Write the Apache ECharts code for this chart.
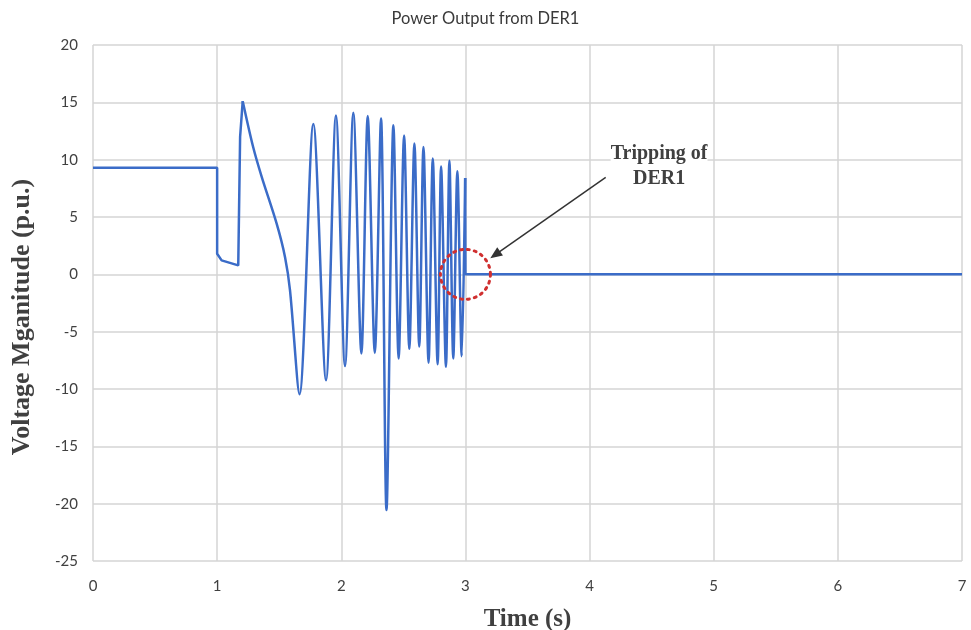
<!DOCTYPE html>
<html><head><meta charset="utf-8">
<script src="https://cdn.jsdelivr.net/npm/echarts@6/dist/echarts.min.js"></script>
<style>html,body{margin:0;padding:0;background:#fff}#c{width:971px;height:630px}</style>
</head><body><div id="c"></div>
<script>
// Pre-disturbance and fault step (time s / voltage p.u.)
const stepTime = [0, 1.0, 1.0, 1.036, 1.17, 1.185, 1.206];
const stepVolt = [9.3, 9.3, 1.8, 1.22, 0.78, 12.0, 15.1];
// Oscillation phase
const oscTime = [1.206, 1.29, 1.359, 1.48, 1.547, 1.587, 1.663,
  1.775, 1.877, 1.957, 2.03, 2.097, 2.162, 2.213, 2.27, 2.32, 2.364, 2.42, 2.462, 2.506, 2.548,
  2.589, 2.628, 2.662, 2.703, 2.737, 2.776, 2.804, 2.843, 2.871, 2.902, 2.935, 2.97, 2.998];
const oscVolt = [15.1, 11.1, 8.5, 4.4, 1.5, -1.4, -10.45,
  13.1, -9.23, 13.85, -8.0, 14.1, -6.9, 13.8, -6.85, 13.6, -20.56, 13.0, -7.35, 12.1, -6.5,
  11.4, -6.3, 11.1, -7.7, 10.1, -7.85, 9.4, -8.07, 9.9, -7.35, 9.0, -7.15, 8.4];
// After tripping
const tripTime = [2.998, 3.0, 7.0];
const tripVolt = [8.4, 0, 0];

const xTicks = [0, 1, 2, 3, 4, 5, 6, 7];
const yTicks = [-25, -20, -15, -10, -5, 0, 5, 10, 15, 20];
const titleText = 'Power Output from DER1';
const xName = 'Time (s)';
const yName = 'Voltage Mganitude (p.u.)';
const noteText = 'Tripping of\nDER1';
const tripPoint = [3.0, 0];
const arrowFrom = [4.13, 8.45];
const arrowTo = [3.2, 1.4];
const notePos = [4.56, 9.4];

const chart = echarts.init(document.getElementById('c'));
const serif = '"Liberation Serif","DejaVu Serif",serif';
const sans = 'Lato,"Open Sans",sans-serif';
const lineStyle = {color: '#3b6cc8', width: 2.5};
const pairs = (t, v) => t.map((x, i) => [x, v[i]]);
chart.setOption({
  animation: false,
  title: {text: titleText, left: 'center', top: 5,
    textStyle: {fontFamily: sans, fontSize: 16.5, fontWeight: 'normal', color: '#3a3a3a'}},
  grid: {left: 93, right: 9, top: 45, bottom: 69, outerBoundsMode: 'none', containLabel: false},
  xAxis: {type: 'value', min: xTicks[0], max: xTicks[xTicks.length - 1], interval: 1,
    name: xName, nameLocation: 'middle', nameGap: 46,
    nameTextStyle: {fontFamily: serif, fontSize: 25, fontWeight: 'bold', color: '#404040'},
    axisLine: {show: false}, axisTick: {show: false},
    axisLabel: {fontFamily: sans, fontSize: 15, color: '#404040', margin: 18},
    splitLine: {show: true, lineStyle: {color: '#d4d4d4', width: 1.5}}},
  yAxis: {type: 'value', min: yTicks[0], max: yTicks[yTicks.length - 1], interval: 5,
    name: yName, nameLocation: 'middle', nameGap: 58,
    nameTextStyle: {fontFamily: serif, fontSize: 26, fontWeight: 'bold', color: '#404040',
      padding: [0, 28, 0, 0]},
    axisLine: {show: false}, axisTick: {show: false},
    axisLabel: {fontFamily: sans, fontSize: 15, color: '#404040', margin: 15},
    splitLine: {show: true, lineStyle: {color: '#d4d4d4', width: 1.5}}},
  series: [
    {type: 'line', data: pairs(stepTime, stepVolt), showSymbol: false, lineStyle},
    {type: 'line', data: pairs(oscTime, oscVolt), showSymbol: false, smooth: 0.3, lineStyle},
    {type: 'line', data: pairs(tripTime, tripVolt), showSymbol: false, lineStyle}
  ]
});

function draw() {
  const c = chart.convertToPixel({gridIndex: 0}, tripPoint);
  const a = chart.convertToPixel({gridIndex: 0}, arrowFrom);
  const b = chart.convertToPixel({gridIndex: 0}, arrowTo);
  const n = chart.convertToPixel({gridIndex: 0}, notePos);
  const ang = Math.atan2(b[1] - a[1], b[0] - a[0]);
  const L = 12, W = 5;
  const p1 = [b[0] - L * Math.cos(ang) + W * Math.sin(ang), b[1] - L * Math.sin(ang) - W * Math.cos(ang)];
  const p2 = [b[0] - L * Math.cos(ang) - W * Math.sin(ang), b[1] - L * Math.sin(ang) + W * Math.cos(ang)];
  chart.setOption({graphic: [
    {type: 'circle', shape: {cx: c[0], cy: c[1], r: 25}, z: 100,
      style: {fill: 'none', stroke: '#d03030', lineWidth: 3, lineDash: [2, 5], lineCap: 'round'}},
    {type: 'line', shape: {x1: a[0], y1: a[1], x2: b[0] - 8 * Math.cos(ang), y2: b[1] - 8 * Math.sin(ang)}, z: 100,
      style: {stroke: '#333', lineWidth: 1.5}},
    {type: 'polygon', shape: {points: [b, p1, p2]}, z: 100, style: {fill: '#333'}},
    {type: 'text', x: n[0], y: n[1], z: 100,
      style: {text: noteText, fill: '#404040', font: 'bold 20px ' + serif, align: 'center', verticalAlign: 'middle', lineHeight: 25,
        backgroundColor: '#fff'}}
  ]});
}
draw();
</script></body></html>
